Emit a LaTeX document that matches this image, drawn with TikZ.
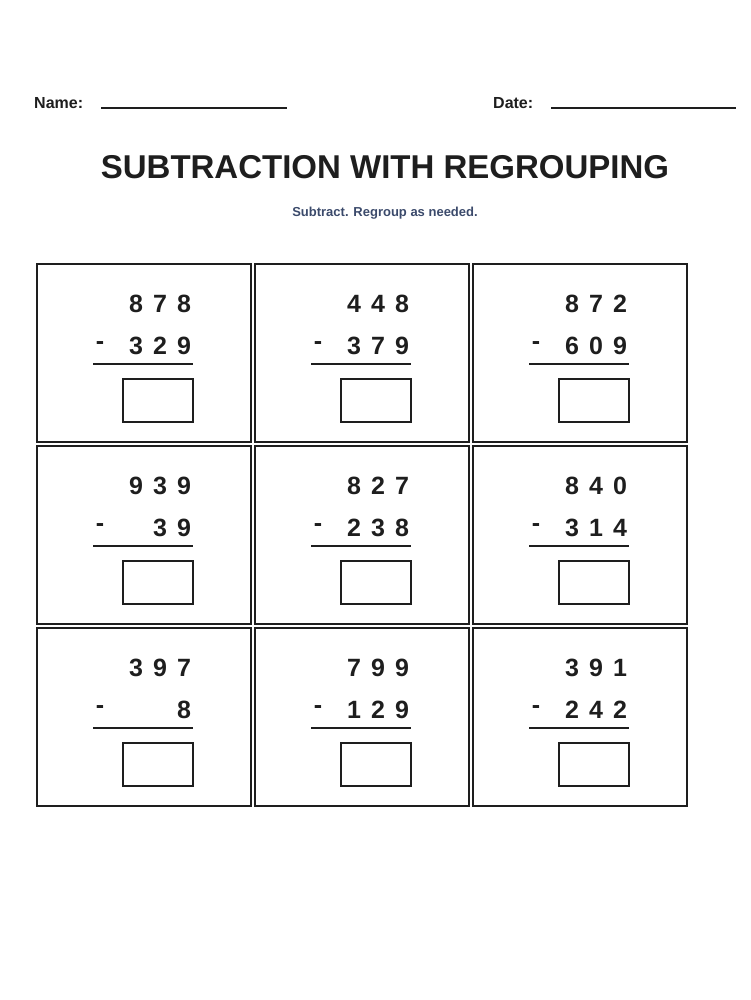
\documentclass[tikz,border=0pt]{standalone}
\usepackage{fontspec}
\setmainfont{Liberation Sans}
\definecolor{ink}{HTML}{1E1E1E}
\definecolor{sub}{HTML}{3B4A6B}
\newcommand\prob[8]{%
\begin{scope}[shift={(#1,#2)}]
\node[cellbox] (c#1#2) at (0,0) {};
\node[dig] (a1#1#2) at (100,41) {#3};
\node[dig] (a2#1#2) at (124,41) {#4};
\node[dig] (a3#1#2) at (148,41) {#5};
\node[dig] (m#1#2) at (64,83) {-};
\node[dig] (b1#1#2) at (100,83) {#6};
\node[dig] (b2#1#2) at (124,83) {#7};
\node[dig] (b3#1#2) at (148,83) {#8};
\coordinate (l1#1#2) at (57,101); \coordinate (l2#1#2) at (157,101);
\draw[line width=2.6pt,ink] (l1#1#2) -- (l2#1#2);
\node[ans] (ans#1#2) at (86,115) {};
\end{scope}}
\begin{document}
\begin{tikzpicture}[x=1pt,y=-1pt,
 cellbox/.style={draw=ink,line width=1.8pt,minimum width=214pt,minimum height=178pt,anchor=north west,inner sep=0},
 ans/.style={draw=ink,line width=2.4pt,minimum width=70pt,minimum height=43pt,anchor=north west,inner sep=0},
 dig/.style={font=\fontsize{25}{25}\selectfont\bfseries,text=ink,inner sep=0},
 lab/.style={font=\fontsize{16}{16}\selectfont\bfseries,text=ink,anchor=west,inner sep=0}]
\useasboundingbox (0,0) rectangle (750,1000);
\node[lab] (name) at (34,103) {Name:};
\coordinate (n1) at (101,108); \coordinate (n2) at (287,108);
\draw[ink,line width=1.5pt] (n1) -- (n2);
\node[lab] (date) at (493,103) {Date:};
\coordinate (d1) at (551,108); \coordinate (d2) at (736,108);
\draw[ink,line width=1.5pt] (d1) -- (d2);
\node[font=\fontsize{33}{33}\selectfont\bfseries,text=ink,inner sep=0] (title) at (385,167) {SUBTRACTION WITH REGROUPING};
\node[font=\fontsize{13}{13}\selectfont\bfseries,text=sub,inner sep=0] (subt) at (385,213) {Subtract. Regroup as needed.};
\prob{36}{263}{8}{7}{8}{3}{2}{9}
\prob{254}{263}{4}{4}{8}{3}{7}{9}
\prob{472}{263}{8}{7}{2}{6}{0}{9}
\prob{36}{445}{9}{3}{9}{}{3}{9}
\prob{254}{445}{8}{2}{7}{2}{3}{8}
\prob{472}{445}{8}{4}{0}{3}{1}{4}
\prob{36}{627}{3}{9}{7}{}{}{8}
\prob{254}{627}{7}{9}{9}{1}{2}{9}
\prob{472}{627}{3}{9}{1}{2}{4}{2}
\end{tikzpicture}
\end{document}
